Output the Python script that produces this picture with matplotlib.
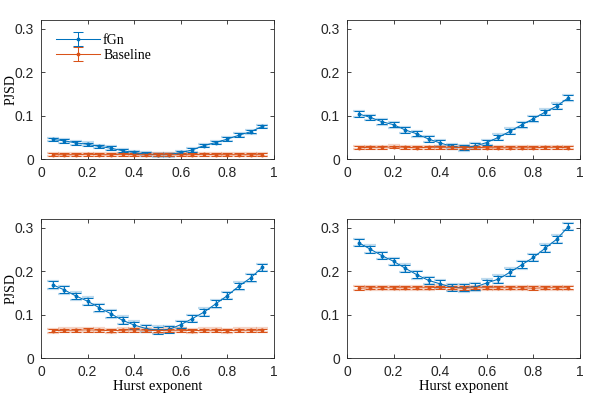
import matplotlib
matplotlib.use("Agg")
import matplotlib.pyplot as plt
import numpy as np

hurst = [0.05, 0.10, 0.15, 0.20, 0.25, 0.30, 0.35, 0.40, 0.45, 0.50,
         0.55, 0.60, 0.65, 0.70, 0.75, 0.80, 0.85, 0.90, 0.95]

fgn_tl = [0.045, 0.042, 0.037, 0.034, 0.029, 0.025, 0.019, 0.015, 0.011, 0.010,
          0.010, 0.015, 0.021, 0.031, 0.038, 0.046, 0.055, 0.063, 0.075]
base_tl = [0.010, 0.010, 0.010, 0.011, 0.010, 0.010, 0.011, 0.010, 0.010, 0.010,
           0.010, 0.010, 0.010, 0.011, 0.010, 0.010, 0.010, 0.010, 0.010]
fgn_tr = [0.104, 0.096, 0.086, 0.079, 0.067, 0.058, 0.046, 0.037, 0.029, 0.026,
          0.030, 0.038, 0.050, 0.064, 0.079, 0.093, 0.108, 0.122, 0.141]
base_tr = [0.026, 0.027, 0.027, 0.028, 0.027, 0.026, 0.027, 0.027, 0.027, 0.026,
           0.027, 0.026, 0.026, 0.026, 0.026, 0.026, 0.027, 0.027, 0.026]
fgn_bl = [0.169, 0.157, 0.143, 0.131, 0.116, 0.102, 0.087, 0.076, 0.068, 0.064,
          0.066, 0.077, 0.091, 0.106, 0.125, 0.144, 0.166, 0.185, 0.209]
base_bl = [0.063, 0.064, 0.064, 0.065, 0.064, 0.063, 0.064, 0.065, 0.064, 0.063,
           0.064, 0.064, 0.063, 0.064, 0.064, 0.063, 0.064, 0.064, 0.064]
fgn_br = [0.266, 0.251, 0.236, 0.223, 0.207, 0.192, 0.179, 0.171, 0.163, 0.162,
          0.164, 0.173, 0.182, 0.198, 0.215, 0.232, 0.253, 0.274, 0.303]
base_br = [0.161, 0.162, 0.162, 0.162, 0.162, 0.162, 0.162, 0.163, 0.162, 0.161,
           0.162, 0.162, 0.162, 0.162, 0.162, 0.161, 0.162, 0.162, 0.162]

err_fgn = [0.004, 0.006, 0.008, 0.008]
err_base = [0.003, 0.003, 0.004, 0.004]

panels = [(fgn_tl, base_tl), (fgn_tr, base_tr), (fgn_bl, base_bl), (fgn_br, base_br)]

xticks = [0, 0.2, 0.4, 0.6, 0.8, 1]
xticklabels = ["0", "0.2", "0.4", "0.6", "0.8", "1"]
yticks = [0, 0.1, 0.2, 0.3]
yticklabels = ["0", "0.1", "0.2", "0.3"]

BLUE = "#0072BD"
ORANGE = "#D95319"
SANS = "Liberation Sans"
SERIF = "Liberation Serif"

W, H = 598, 394
fig = plt.figure(figsize=(W / 100, H / 100), dpi=100)
lefts = [41, 347]
tops = [20, 219]
aw, ah = 233, 139

for i, (fgn, base) in enumerate(panels):
    r, c = divmod(i, 2)
    ax = fig.add_axes([lefts[c] / W, 1 - (tops[r] + ah) / H, aw / W, ah / H])
    for y, e, col, lab in [(fgn, err_fgn[i], BLUE, "fGn"), (base, err_base[i], ORANGE, "Baseline")]:
        ax.errorbar(hurst, y, yerr=np.full(len(y), e * 1.1), color=col, alpha=0.25,
                    lw=1.6, capsize=4, capthick=1.6, fmt="none", zorder=2)
        ax.errorbar(hurst, y, yerr=np.full(len(y), e), color=col, lw=0.75,
                    capsize=3.5, capthick=0.75, marker=".", ms=3.5, label=lab, zorder=3)
    ax.set_xlim(0, 1)
    ax.set_ylim(0, 0.3206)
    ax.set_xticks(xticks)
    ax.set_xticklabels(xticklabels, family=SANS, fontsize=10)
    ax.set_yticks(yticks)
    ax.set_yticklabels(yticklabels, family=SANS, fontsize=10)
    ax.tick_params(direction="in", top=True, right=True, length=3, width=0.6,
                   colors="#262626", pad=5)
    for s in ax.spines.values():
        s.set_color("#262626")
        s.set_linewidth(0.6)
    if c == 0:
        ax.set_ylabel("PJSD", family=SERIF, fontsize=10)
        ax.yaxis.set_label_coords(-0.1, 0.5)
    if r == 1:
        ax.set_xlabel("Hurst exponent", family=SERIF, fontsize=10.5, labelpad=1)
    if i == 0:
        ax.legend(loc="upper left", frameon=False, prop={"family": SERIF, "size": 10},
                  handlelength=3.2, borderaxespad=0.5, labelspacing=0.15, handletextpad=0.2,
                  bbox_to_anchor=(0.01, 0.99))

fig.savefig("out.png", dpi=100)
